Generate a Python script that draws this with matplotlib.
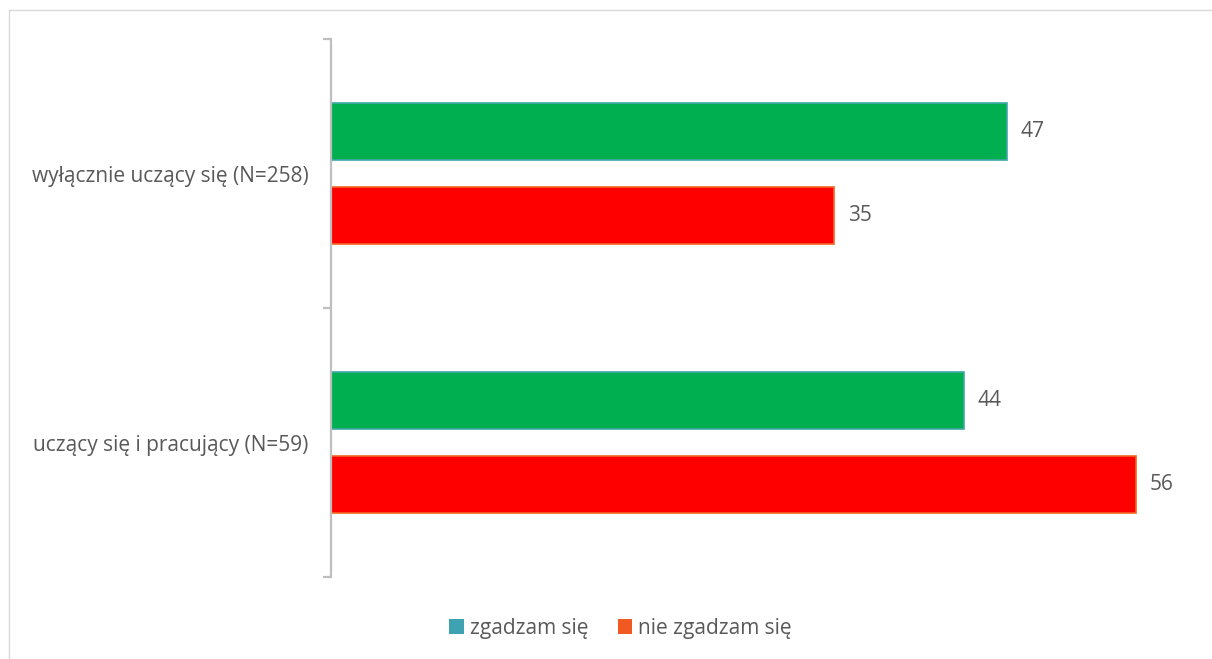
import matplotlib.pyplot as plt
from matplotlib.patches import Patch
from matplotlib.lines import Line2D

categories = ["wyłącznie uczący się (N=258)", "uczący się i pracujący (N=59)"]
series = ["zgadzam się", "nie zgadzam się"]
agree = [47, 44]
disagree = [35, 56]

bar_colors = ["#00B050", "#FF0000"]
edge_colors = ["#3FA8A8", "#F26522"]
legend_colors = ["#3FA2B2", "#F05A22"]
text_color = "#595959"

plt.rcParams["font.family"] = ["Open Sans", "DejaVu Sans"]

fig = plt.figure(figsize=(12.12, 6.59), dpi=100)
ax = fig.add_axes([0.273, 0.1244, 0.712, 0.8164])

h = 0.212
off = 0.156
for vals, sign, c, ec in [(agree, -1, bar_colors[0], edge_colors[0]),
                          (disagree, 1, bar_colors[1], edge_colors[1])]:
    ys = [p + sign * off for p in range(len(categories))]
    ax.barh(ys, vals, height=h, color=c, edgecolor=ec, linewidth=1.2)
    for y, v in zip(ys, vals):
        ax.text(v + 0.95, y, str(v), va="center", ha="left",
                fontsize=15, color=text_color)

ax.set_xlim(0, 60)
ax.set_ylim(1.5, -0.5)

for s in ["top", "right", "bottom"]:
    ax.spines[s].set_visible(False)
ax.spines["left"].set_color("#BFBFBF")
ax.spines["left"].set_linewidth(1.6)

ax.set_xticks([])
ax.set_yticks([-0.5, 0.5, 1.5])
ax.set_yticklabels([])
ax.tick_params(axis="y", which="major", length=6, width=1.6, color="#BFBFBF")
ax.set_yticks([0, 1], minor=True)
ax.set_yticklabels(categories, minor=True)
ax.tick_params(axis="y", which="minor", length=0, pad=16,
               labelsize=15, labelcolor=text_color)

handles = [Patch(facecolor=legend_colors[i], edgecolor="none") for i in range(2)]
fig.legend(handles, series, loc="center", bbox_to_anchor=(0.512, 0.047),
           ncol=2, frameon=False, fontsize=15, labelcolor=text_color,
           handlelength=0.7, handleheight=0.7, handletextpad=0.3,
           columnspacing=1.4)

# light frame around the chart area
fig.add_artist(Line2D([9 / 1212, 1], [1 - 10 / 659, 1 - 10 / 659],
                      color="#D9D9D9", linewidth=1))
fig.add_artist(Line2D([9 / 1212, 9 / 1212], [0, 1 - 10 / 659],
                      color="#D9D9D9", linewidth=1))

fig.savefig("out.png", dpi=100)
